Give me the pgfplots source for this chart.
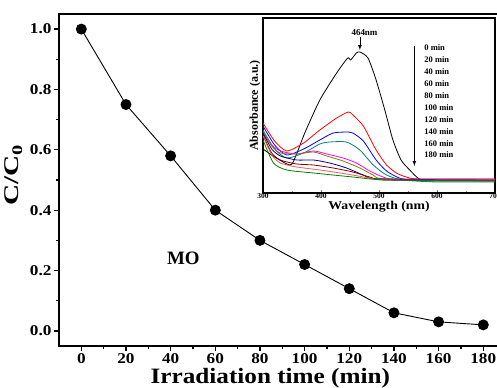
\documentclass[border=0pt]{standalone}
\usepackage{fontspec}
\setmainfont{Liberation Serif}
\newfontfamily\wideA[FakeStretch=1.15]{Liberation Serif}
\newfontfamily\wideB[FakeStretch=1.4]{Liberation Serif}
\usepackage{pgfplots}
\pgfplotsset{compat=1.18}
\definecolor{cteal}{RGB}{0,128,128}
\definecolor{cmag}{RGB}{255,0,255}
\definecolor{colive}{RGB}{128,128,0}
\definecolor{cnavy}{RGB}{0,0,128}
\definecolor{cwine}{RGB}{128,0,0}
\definecolor{cpink}{RGB}{240,90,90}
\definecolor{cgreen}{RGB}{0,128,0}
\begin{document}
\begin{tikzpicture}
\useasboundingbox (0,0) rectangle (497bp,388bp);
\clip (0,0) rectangle (497bp,388bp);
\begin{axis}[
  at={(59bp,42bp)}, anchor=south west, scale only axis,
  width=446.6bp, height=332bp,
  xmin=-10, xmax=190, ymin=-0.05, ymax=1.05,
  xtick={0,20,...,180}, ytick={0,0.2,0.4,0.6,0.8,1.0},
  minor x tick num=1, minor y tick num=1,
  tick align=outside, tick pos=left,
  major tick length=5bp, minor tick length=3bp,
  every tick/.style={black, line width=1.3bp},
  axis line style={line width=1.8bp},
  /pgf/number format/assume math mode=true,
  tick label style={font=\wideA\fontsize{15}{15}\selectfont\bfseries},
  xticklabel style={yshift=1bp},
  yticklabel style={xshift=1bp, /pgf/number format/.cd, fixed, fixed zerofill, precision=1},
  xlabel={Irradiation time (min)},
  ylabel={C/C\textsubscript{0}},
  xlabel style={font=\wideA\fontsize{22}{22}\selectfont\bfseries, xshift=-12bp, yshift=2bp},
  ylabel style={font=\wideB\fontsize{21}{21}\selectfont\bfseries, yshift=1bp, xshift=5bp},
]
\addplot[black, line width=0.9bp, mark=*, mark size=5bp] coordinates {
(0,1.0) (20,0.75) (40,0.58) (60,0.40) (80,0.30) (100,0.22) (120,0.14) (140,0.06) (160,0.03) (180,0.02)};
\node[font=\fontsize{19}{19}\selectfont\bfseries] at (axis cs:45.7,0.24) {MO};
\end{axis}
\begin{axis}[
  at={(263bp,195bp)}, anchor=south west, scale only axis,
  width=232bp, height=175bp,
  xmin=300, xmax=700, ymin=0, ymax=175,
  xtick={300,400,...,700}, ytick=\empty,
  minor x tick num=1,
  tick align=inside, tick pos=left,
  major tick length=3bp, minor tick length=2bp,
  axis line style={line width=1.3bp},
  axis background/.style={fill=white},
  /pgf/number format/assume math mode=true,
  xticklabel style={font=\fontsize{7.5}{7.5}\selectfont\bfseries, yshift=2.5bp},
  xlabel={Wavelength (nm)},
  ylabel={Absorbance (a.u.)},
  xlabel style={font=\wideA\fontsize{12}{12}\selectfont\bfseries, yshift=4.5bp},
  ylabel style={font=\fontsize{12}{12}\selectfont\bfseries, yshift=-1bp},
  every axis plot/.append style={line width=0.8bp, smooth, tension=0.4},
]
\addplot[black] coordinates {(300,44) (320,36) (345,28) (352,31) (362,45) (372,60) (398,93) (427,120) (446,135) (451,133) (461,140) (467,141) (481,135) (495,113) (510,83) (524,53) (538,33) (553,23) (567,15) (581,12) (600,12) (700,12)};
\addplot[red] coordinates {(300,70) (320,52) (341,42) (370,50) (398,63) (427,75) (447,81) (455,78) (473,67) (495,43) (513,28) (530,20) (547,16) (570,14) (700,14)};
\addplot[blue] coordinates {(300,67) (320,48) (341,38) (370,44) (398,53) (421,60) (447,61) (455,60) (473,52) (495,33) (513,22) (535,15) (560,13) (700,13)};
\addplot[cteal] coordinates {(300,63) (320,44) (341,35) (370,40) (398,49) (415,51) (444,51) (467,43) (490,28) (513,18) (541,13) (600,11) (700,11)};
\addplot[cmag] coordinates {(300,60) (315,48) (330,42) (358,39) (387,42) (410,39) (438,35) (461,30) (484,22) (507,16) (530,14) (700,14)};
\addplot[colive] coordinates {(300,62) (315,47) (330,40) (358,39) (387,41) (410,37) (438,32) (467,25) (490,18) (513,14) (700,13)};
\addplot[cnavy] coordinates {(300,60) (315,44) (330,37) (358,33) (387,33) (415,30) (444,25) (473,18) (501,14) (700,13)};
\addplot[cwine] coordinates {(300,58) (315,40) (330,33) (358,29) (387,28) (421,25) (455,21) (484,16) (513,13) (700,12.5)};
\addplot[cpink] coordinates {(300,57) (315,38) (330,30) (358,26) (398,23) (444,19) (484,15) (513,13) (700,13)};
\addplot[cgreen] coordinates {(300,53) (318,30) (341,23) (387,20) (455,16) (513,13) (700,12)};
\draw[-latex, line width=0.7bp] (axis cs:561,147) -- (axis cs:561,27);
\draw[-latex, line width=0.7bp] (axis cs:467,156) -- (axis cs:467,143);
\node[font=\fontsize{9}{9}\selectfont\bfseries] at (axis cs:475,160) {464nm};
\node[font=\fontsize{8.5}{8.5}\selectfont\bfseries, anchor=west, inner sep=0pt] at (axis cs:578,145.0) {0 min};
\node[font=\fontsize{8.5}{8.5}\selectfont\bfseries, anchor=west, inner sep=0pt] at (axis cs:578,133.1) {20 min};
\node[font=\fontsize{8.5}{8.5}\selectfont\bfseries, anchor=west, inner sep=0pt] at (axis cs:578,121.2) {40 min};
\node[font=\fontsize{8.5}{8.5}\selectfont\bfseries, anchor=west, inner sep=0pt] at (axis cs:578,109.3) {60 min};
\node[font=\fontsize{8.5}{8.5}\selectfont\bfseries, anchor=west, inner sep=0pt] at (axis cs:578,97.4) {80 min};
\node[font=\fontsize{8.5}{8.5}\selectfont\bfseries, anchor=west, inner sep=0pt] at (axis cs:578,85.5) {100 min};
\node[font=\fontsize{8.5}{8.5}\selectfont\bfseries, anchor=west, inner sep=0pt] at (axis cs:578,73.6) {120 min};
\node[font=\fontsize{8.5}{8.5}\selectfont\bfseries, anchor=west, inner sep=0pt] at (axis cs:578,61.7) {140 min};
\node[font=\fontsize{8.5}{8.5}\selectfont\bfseries, anchor=west, inner sep=0pt] at (axis cs:578,49.8) {160 min};
\node[font=\fontsize{8.5}{8.5}\selectfont\bfseries, anchor=west, inner sep=0pt] at (axis cs:578,37.9) {180 min};
\end{axis}
\end{tikzpicture}
\end{document}
